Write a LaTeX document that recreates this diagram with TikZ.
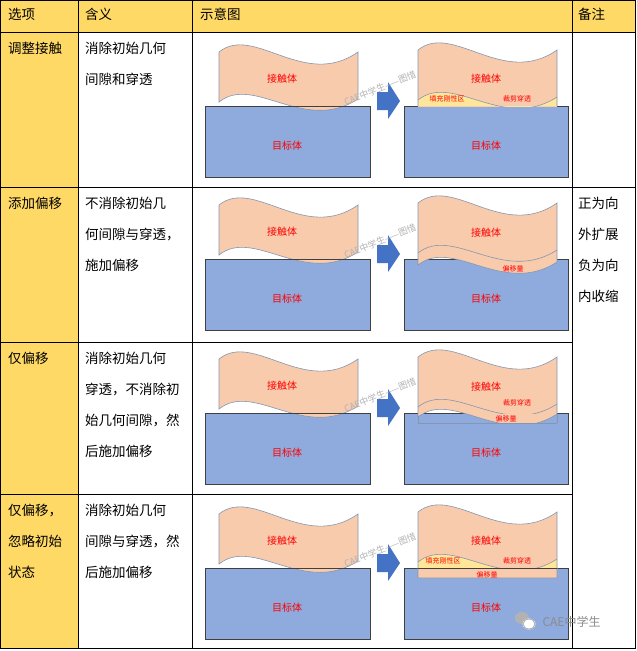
\documentclass[tikz,border=0pt]{standalone}
\usepackage{fontspec}
\setmainfont{Noto Sans CJK SC}
\begin{document}
\begin{tikzpicture}[x=1pt,y=-1pt,
  cell/.style={anchor=north west,align=left,font=\fontsize{13.5}{31}\selectfont,inner sep=0pt},
  big/.style={text=red,font=\fontsize{10}{12}\selectfont},
  small/.style={text=red,font=\fontsize{7}{8}\selectfont},
  wm/.style={text=black!30,font=\fontsize{9}{11}\selectfont,rotate=22},
  body/.style={fill=peach,draw=edge,line width=0.6pt},
  tgt/.style={fill=tblue,draw=black!75,line width=0.8pt}]
\definecolor{peach}{HTML}{F8CBAD}
\definecolor{edge}{HTML}{8497B0}
\definecolor{tblue}{HTML}{8FAADC}
\definecolor{yel}{HTML}{FFE699}
\definecolor{hdr}{HTML}{FFD966}
\definecolor{arr}{HTML}{4472C4}
\useasboundingbox (0,0) rectangle (637,651);
\fill[white] (0,0) rectangle (637,651);
\fill[hdr] (0,0) rectangle (635,32);
\fill[hdr] (0,32) rectangle (78,648);
\draw[line width=0.8pt] (0,0) rectangle (635,648);
\draw[line width=0.8pt] (78,0) -- (78,648) (192,0) -- (192,648) (572,0) -- (572,648);
\draw[line width=0.8pt] (0,32) -- (635,32) (0,187) -- (635,187) (0,342) -- (572,342) (0,494) -- (572,494);
\node[cell] (h1) at (8,8) {选项};
\node[cell] (h2) at (85,8) {含义};
\node[cell] (h3) at (200,8) {示意图};
\node[cell] (h4) at (578,8) {备注};
\node[cell] (a1) at (8,42) {调整接触};
\node[cell] (a2) at (8,197) {添加偏移};
\node[cell] (a3) at (8,352) {仅偏移};
\node[cell] (a4) at (8,504) {仅偏移，\\忽略初始\\状态};
\node[cell] (b1) at (85,42) {消除初始几何\\间隙和穿透};
\node[cell] (b2) at (85,197) {不消除初始几\\何间隙与穿透，\\施加偏移};
\node[cell] (b3) at (85,352) {消除初始几何\\穿透，不消除初\\始几何间隙，然\\后施加偏移};
\node[cell] (b4) at (85,504) {消除初始几何\\间隙与穿透，然\\后施加偏移};
\node[cell] (c2) at (578,197) {正为向\\外扩展\\负为向\\内收缩};
\def\topw{(0,0) .. controls (35,-28) and (85,38) .. (139,0)}
\def\botw{(139,47) .. controls (85,82) and (35,22) .. (0,50)}
\foreach \dy in {0,153,307,462}{
 \begin{scope}[yshift=-\dy]
  \draw[tgt] (205,106) rectangle (370,177);
  \begin{scope}[shift={(219,52)}]
   \draw[body] \topw -- \botw -- cycle;
  \end{scope}
  \draw[black!75,line width=0.8pt] (205,106) -- (370,106);
  \node[big] at (282,79) {接触体};
  \node[big] at (287,146) {目标体};
  \fill[arr] (377,92) -- (388,92) -- (388,82) -- (400,101) -- (388,119) -- (388,110) -- (377,110) -- cycle;
  \draw[tgt] (404,106) rectangle (568,177);
  \node[big] at (486,146) {目标体};
 \end{scope}
}
% row1 right
\begin{scope}[shift={(418,50)}]
 \begin{scope}\clip (-5,-30) rectangle (145,56);
  \fill[peach] \topw -- (139,80) -- (0,80) -- cycle;
  \fill[yel] \botw -- (0,56) -- (139,56) -- cycle;
  \draw[edge,line width=0.6pt] \botw;
 \end{scope}
 \draw[edge,line width=0.6pt] (0,56) -- (0,0) \topw -- (139,56);
\end{scope}
\node[big] at (486,79) {接触体};
\node[small] at (447,99) {填充刚性区};
\node[small] at (517,99) {裁剪穿透};
% row2 right
\begin{scope}[shift={(418,203)}]
 \draw[body] \topw -- (139,59) .. controls (85,94) and (35,34) .. (0,62) -- cycle;
 \draw[edge,line width=0.6pt] \botw;
\end{scope}
\node[big] at (486,233) {接触体};
\node[small] at (513,269) {偏移量};
% row3 right
\begin{scope}[shift={(418,357)}]
 \begin{scope}\clip (-5,-30) rectangle (145,66);
  \draw[body] \topw -- (139,57) .. controls (85,92) and (35,32) .. (0,60) -- cycle;
 \end{scope}
 \draw[edge,line width=0.6pt] (0,66) -- (0,60) (139,57)--(139,66) (0,66)--(139,66);
 \begin{scope}\clip (-5,-30) rectangle (145,56);
  \draw[edge,line width=0.6pt] \botw;
 \end{scope}
\end{scope}
\node[big] at (486,387) {接触体};
\node[small] at (517,403) {裁剪穿透};
\node[small] at (506,419) {偏移量};
% row4 right
\begin{scope}[shift={(418,512)}]
 \fill[peach] \topw -- (139,66) -- (0,66) -- cycle;
 \begin{scope}\clip (-5,-30) rectangle (145,56);
  \fill[yel] \botw -- (0,56) -- (139,56) -- cycle;
  \draw[edge,line width=0.6pt] \botw;
 \end{scope}
 \draw[edge,line width=0.6pt] (0,66) -- (0,0) \topw -- (139,66) -- (0,66);
 \draw[black!75,line width=0.8pt] (0,56) -- (139,56);
\end{scope}
\node[big] at (486,541) {接触体};
\node[small] at (443,561) {填充刚性区};
\node[small] at (517,561) {裁剪穿透};
\node[small] at (487,575) {偏移量};
% watermarks on top
\foreach \dy in {0,153,307,462}{
  \node[wm] at (380,\dy+88) {CAE中学生——图惜};
}
% wechat mark
\fill[black!30] (522,618) ellipse (7 and 6);
\fill[white] (529,624) ellipse (6.5 and 5.5);
\draw[black!30,line width=1pt] (529,624) ellipse (6 and 5);
\node[anchor=west,text=black!45,font=\fontsize{12}{14}\selectfont] (wx) at (539,622) {CAE中学生};
\end{tikzpicture}
\end{document}
